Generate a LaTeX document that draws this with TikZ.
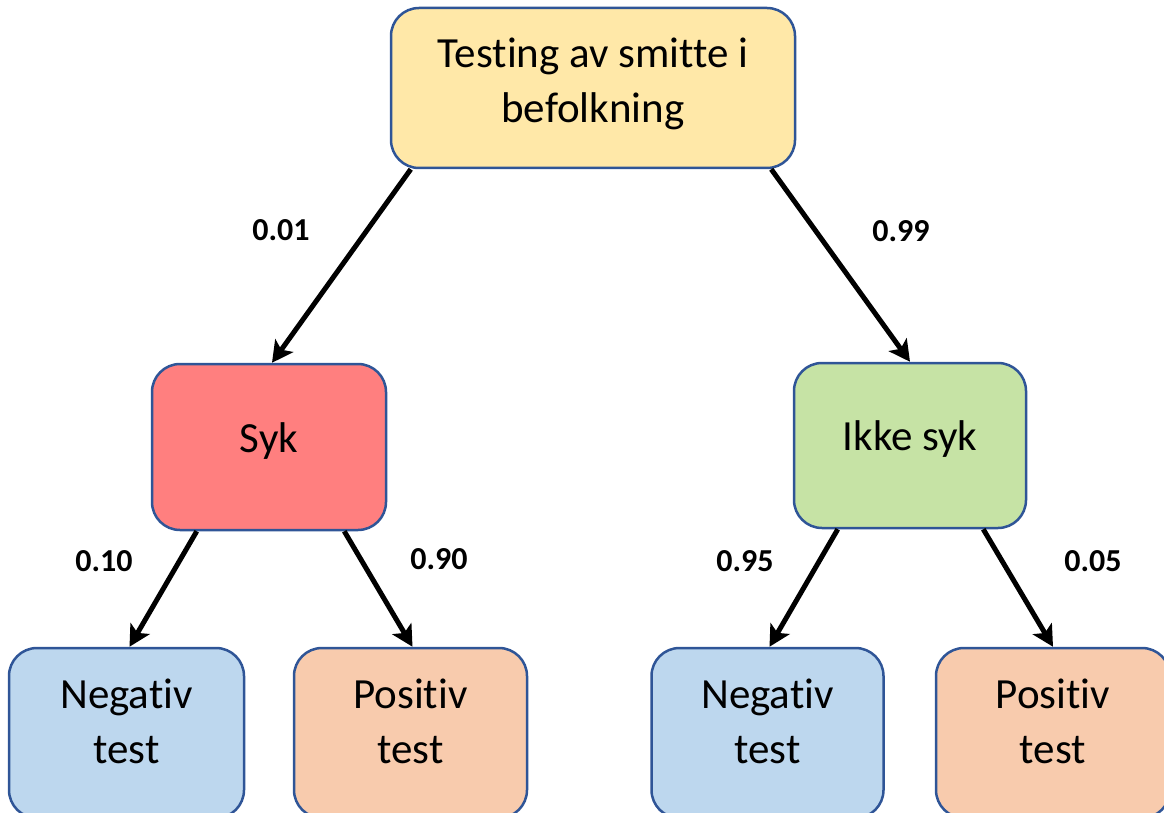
\documentclass[tikz,border=0pt]{standalone}
\usepackage{fontspec}
\setmainfont[Ligatures=NoCommon]{Carlito}
\usetikzlibrary{arrows.meta}
\definecolor{edgeblue}{HTML}{2F5597}
\definecolor{boxyellow}{HTML}{FFE8A8}
\definecolor{boxred}{HTML}{FF7F7F}
\definecolor{boxgreen}{HTML}{C6E3A5}
\definecolor{boxblue}{HTML}{BDD7EE}
\definecolor{boxorange}{HTML}{F8CBAD}
% extra depth below the text so it sits higher in a box
\newcommand{\liftup}[2]{\raisebox{0pt}[\height][\dimexpr\depth+#1\relax]{#2}}
\tikzset{
  stage/.style={draw=edgeblue, line width=2.5pt, rounded corners=28pt,
    align=center, inner sep=0pt, font=\fontsize{43}{55}\selectfont},
  prob/.style={font=\fontsize{32}{38}\selectfont\bfseries, inner sep=0pt},
  arr/.style={line width=5pt, -{Stealth[length=21pt,width=22pt,inset=5pt]}}
}
\begin{document}
\begin{tikzpicture}[x=1pt,y=-1pt]
\useasboundingbox (0,0) rectangle (1164,813);
\clip (0,0) rectangle (1164,813);
\node[stage, fill=boxyellow, minimum width=404pt, minimum height=160pt] (top) at (593,88)
  {\liftup{8pt}{\begin{tabular}{@{}c@{}}Testing av smitte i\\befolkning\end{tabular}}};
\node[stage, fill=boxred, minimum width=234pt, minimum height=166pt] (syk) at (269,447) {\liftup{12pt}{Syk}};
\node[stage, fill=boxgreen, minimum width=232pt, minimum height=165pt] (ikke) at (910,445.5) {\liftup{12pt}{Ikke syk}};
\node[stage, fill=boxblue, minimum width=235pt, minimum height=170pt] (nl) at (126.5,733)
  {\liftup{16pt}{\begin{tabular}{@{}c@{}}Negativ\\test\end{tabular}}};
\node[stage, fill=boxorange, minimum width=233pt, minimum height=170pt] (pl) at (410.5,733)
  {\liftup{16pt}{\begin{tabular}{@{}c@{}}Positiv\\test\end{tabular}}};
\node[stage, fill=boxblue, minimum width=232pt, minimum height=170pt] (nr) at (767.5,733)
  {\liftup{16pt}{\begin{tabular}{@{}c@{}}Negativ\\test\end{tabular}}};
\node[stage, fill=boxorange, minimum width=234pt, minimum height=170pt] (pr) at (1053,733)
  {\liftup{16pt}{\begin{tabular}{@{}c@{}}Positiv\\test\end{tabular}}};

\draw[arr] ([xshift=21pt]top.south west) -- ([xshift=3pt]syk.north);
\draw[arr] ([xshift=-25pt]top.south east) -- (ikke.north);
\draw[arr] ([xshift=46pt]syk.south west) -- ([xshift=3pt]nl.north);
\draw[arr] ([xshift=-43pt]syk.south east) -- ([xshift=2pt]pl.north);
\draw[arr] ([xshift=45pt]ikke.south west) -- ([xshift=2pt]nr.north);
\draw[arr] ([xshift=-44pt]ikke.south east) -- (pr.north);

\node[prob] (p1) at (281,230) {0.01};
\node[prob] (p2) at (901,231) {0.99};
\node[prob] (p3) at (104,561) {0.10};
\node[prob] (p4) at (439,559) {0.90};
\node[prob] (p5) at (745,561) {0.95};
\node[prob] (p6) at (1093,561) {0.05};
\end{tikzpicture}
\end{document}
